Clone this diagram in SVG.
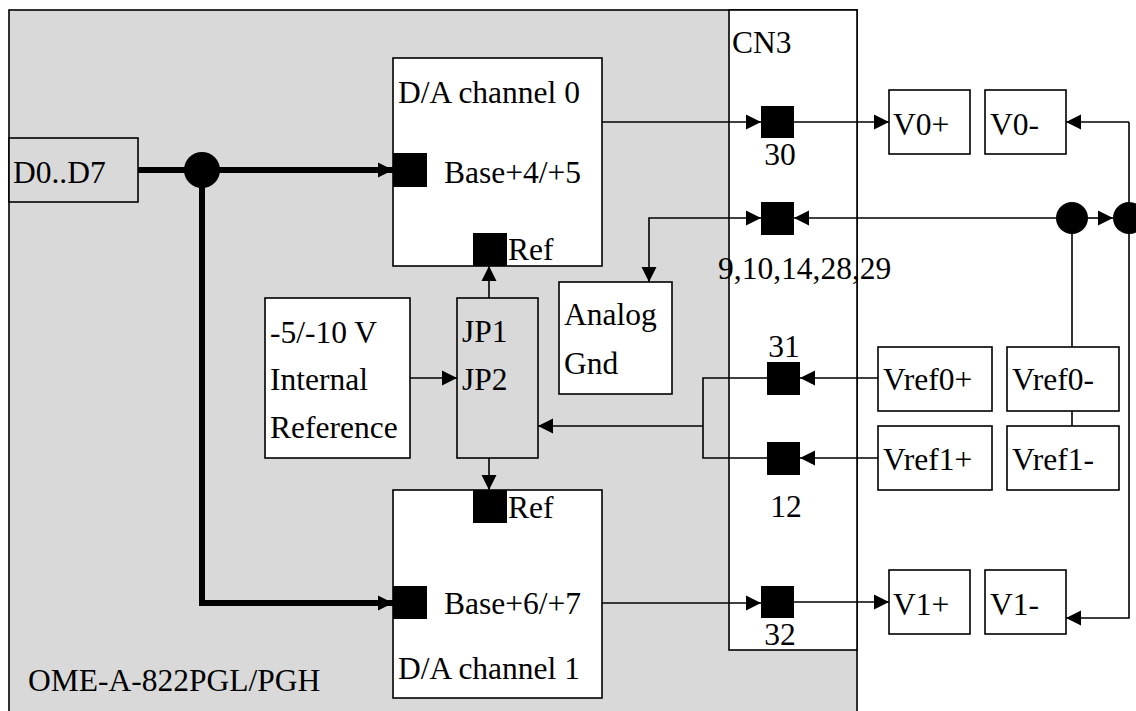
<svg xmlns="http://www.w3.org/2000/svg" width="1136" height="711" viewBox="0 0 1136 711">
<defs>
<style>
text{font-family:"Liberation Serif","Times New Roman",serif;font-size:31.5px;fill:#000}
.box{fill:#fff;stroke:#000;stroke-width:1.6}
.gbox{fill:#d9d9d9;stroke:#000;stroke-width:1.6}
.thin{fill:none;stroke:#000;stroke-width:1.6}
.thick{fill:none;stroke:#000;stroke-width:6}
.pin{fill:#000}
</style>
<marker id="ah" markerUnits="userSpaceOnUse" markerWidth="16" markerHeight="16" refX="15" refY="8" orient="auto-start-reverse">
<path d="M0,0.5 L15,8 L0,15.5 Z" fill="#000"/>
</marker>
</defs>
<g id="board">
<rect class="gbox" x="9" y="10" width="848" height="706"/>
<text x="28" y="691">OME-A-822PGL/PGH</text>
</g>
<g id="cn3">
<rect class="box" x="729" y="10" width="128" height="640"/>
<text x="732" y="53">CN3</text>
</g>
<g id="d0d7">
<rect class="gbox" x="9" y="138" width="129" height="64"/>
<text x="13" y="183">D0..D7</text>
</g>
<g id="da0">
<rect class="box" x="393" y="58" width="209" height="208"/>
<text x="398" y="103">D/A channel 0</text>
<text x="444" y="183">Base+4/+5</text>
<rect class="pin" x="393" y="153" width="34" height="34"/>
<rect class="pin" x="473" y="233" width="34" height="33"/>
<text x="508" y="260">Ref</text>
</g>
<g id="da1">
<rect class="box" x="393" y="490" width="209" height="208"/>
<rect class="pin" x="473" y="490" width="34" height="33"/>
<text x="508" y="518">Ref</text>
<rect class="pin" x="393" y="586" width="34" height="33"/>
<text x="444" y="614">Base+6/+7</text>
<text x="398" y="679">D/A channel 1</text>
</g>
<g id="intref">
<rect class="box" x="265" y="298" width="145" height="160"/>
<text x="270" y="343">-5/-10 V</text>
<text x="270" y="390">Internal</text>
<text x="270" y="438">Reference</text>
</g>
<g id="jp">
<rect class="gbox" x="457" y="298" width="81" height="160"/>
<text x="462" y="342">JP1</text>
<text x="462" y="390">JP2</text>
</g>
<g id="agnd">
<rect class="box" x="559" y="282" width="113" height="112" stroke-width="2.4"/>
<text x="564" y="325">Analog</text>
<text x="564" y="374">Gnd</text>
</g>
<g id="pins">
<rect class="pin" x="761" y="106" width="33" height="32"/>
<text x="780" y="165" text-anchor="middle">30</text>
<rect class="pin" x="761" y="202" width="33" height="33"/>
<text x="718" y="279">9,10,14,28,29</text>
<rect class="pin" x="767" y="362" width="33" height="33"/>
<text x="784" y="357" text-anchor="middle">31</text>
<rect class="pin" x="767" y="442" width="33" height="33"/>
<text x="786" y="517" text-anchor="middle">12</text>
<rect class="pin" x="761" y="586" width="33" height="32"/>
<text x="780" y="645" text-anchor="middle">32</text>
</g>
<g id="v0p"><rect class="box" x="889" y="90" width="81" height="64"/><text x="893" y="135">V0+</text></g>
<g id="v0m"><rect class="box" x="985" y="90" width="81" height="64"/><text x="990" y="135">V0-</text></g>
<g id="v1p"><rect class="box" x="889" y="570" width="81" height="64"/><text x="893" y="615">V1+</text></g>
<g id="v1m"><rect class="box" x="985" y="570" width="81" height="64"/><text x="990" y="615">V1-</text></g>
<g id="vref0p"><rect class="box" x="878" y="347" width="114" height="64"/><text x="883" y="390">Vref0+</text></g>
<g id="vref1p"><rect class="box" x="878" y="426" width="114" height="64"/><text x="883" y="470">Vref1+</text></g>
<g id="vref0m"><rect class="box" x="1007" y="347" width="112" height="64"/><text x="1012" y="390">Vref0-</text></g>
<g id="vref1m"><rect class="box" x="1007" y="426" width="112" height="64"/><text x="1012" y="470">Vref1-</text></g>
<g id="connectors">
<path class="thick" d="M138,170 H393" marker-end="url(#ah)"/>
<path class="thick" d="M202,170 V603 H393" marker-end="url(#ah)"/>
<circle cx="202" cy="170" r="18" fill="#000"/>
<path class="thin" d="M602,122 H761" marker-end="url(#ah)"/>
<path class="thin" d="M794,122 H889" marker-end="url(#ah)"/>
<path class="thin" d="M1129,122 H1066" marker-end="url(#ah)"/>
<path class="thin" d="M1129,122 V618 H1066" marker-end="url(#ah)"/>
<path class="thin" d="M1056,218 H794" marker-end="url(#ah)"/>
<path class="thin" d="M1088,218 H1113" marker-end="url(#ah)"/>
<circle cx="1072" cy="218" r="16" fill="#000"/>
<circle cx="1129" cy="218" r="16" fill="#000"/>
<path class="thin" d="M649,282 V218 H761" marker-start="url(#ah)" marker-end="url(#ah)"/>
<path class="thin" d="M1072,218 V347"/>
<path class="thin" d="M1072,411 V426"/>
<path class="thin" d="M878,378 H800" marker-end="url(#ah)"/>
<path class="thin" d="M878,458 H800" marker-end="url(#ah)"/>
<path class="thin" d="M767,378 H703 V458 H767"/>
<path class="thin" d="M703,426 H538" marker-end="url(#ah)"/>
<path class="thin" d="M410,378 H457" marker-end="url(#ah)"/>
<path class="thin" d="M489,298 V266" marker-end="url(#ah)"/>
<path class="thin" d="M489,458 V490" marker-end="url(#ah)"/>
<path class="thin" d="M602,603 H761" marker-end="url(#ah)"/>
<path class="thin" d="M794,602 H889" marker-end="url(#ah)"/>
</g>
</svg>
